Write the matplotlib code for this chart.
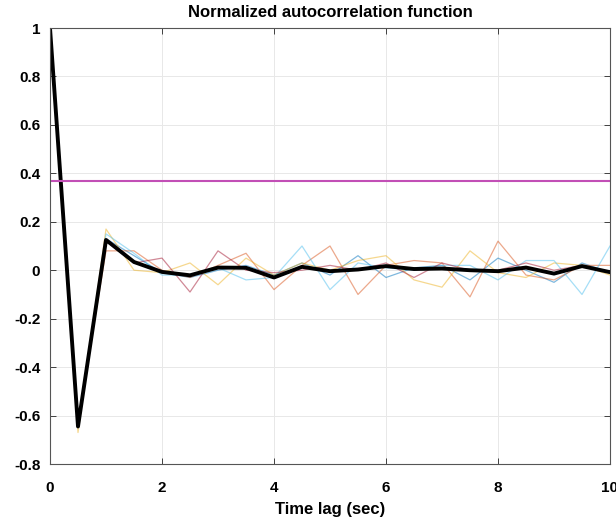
import matplotlib
matplotlib.use("Agg")
import matplotlib.pyplot as plt
import numpy as np

plt.rcParams['font.family'] = ['Liberation Sans', 'DejaVu Sans']

lags = [0, 0.5, 1, 1.5, 2, 2.5, 3, 3.5, 4, 4.5, 5, 5.5, 6, 6.5, 7, 7.5, 8, 8.5, 9, 9.5, 10]

series_blue = [1, -0.64, 0.13, 0.06, -0.01, -0.03, 0.00, 0.02, -0.02, 0.03, -0.02, 0.06, -0.03, 0.01, 0.02, -0.04, 0.05, 0.00, -0.05, 0.03, -0.01]
series_orange = [1, -0.63, 0.08, 0.08, 0.00, -0.03, 0.02, 0.07, -0.08, 0.02, 0.10, -0.10, 0.02, 0.04, 0.03, -0.11, 0.12, -0.02, -0.04, 0.02, 0.02]
series_yellow = [1, -0.67, 0.17, 0.00, -0.01, 0.03, -0.06, 0.05, -0.02, 0.03, 0.00, 0.04, 0.06, -0.04, -0.07, 0.08, -0.01, -0.03, 0.03, 0.02, -0.02]
series_lightblue = [1, -0.65, 0.15, 0.07, -0.02, -0.02, 0.01, -0.04, -0.03, 0.10, -0.08, 0.03, 0.01, 0.00, 0.02, 0.02, -0.04, 0.04, 0.04, -0.10, 0.10]
series_darkred = [1, -0.64, 0.12, 0.03, 0.05, -0.09, 0.08, 0.00, -0.01, 0.00, 0.02, 0.00, 0.03, -0.03, 0.03, 0.00, 0.00, 0.03, 0.00, 0.02, -0.01]
mean_acf = [1, -0.645, 0.125, 0.034, -0.007, -0.021, 0.011, 0.010, -0.030, 0.014, -0.004, 0.003, 0.017, 0.005, 0.007, 0.000, -0.004, 0.011, -0.014, 0.017, -0.008]
threshold = 0.3679

x_ticks = [0, 2, 4, 6, 8, 10]
y_ticks = [-0.8, -0.6, -0.4, -0.2, 0, 0.2, 0.4, 0.6, 0.8, 1]
y_ticklabels = ['-0.8', '-0.6', '-0.4', '-0.2', '0', '0.2', '0.4', '0.6', '0.8', '1']

fig = plt.figure(figsize=(6.16, 5.25), dpi=100)
ax = fig.add_axes([50/616, 61/525, 560/616, 436/525])

thin = [
    (series_blue, (0.0, 0.447, 0.741)),
    (series_orange, (0.85, 0.325, 0.098)),
    (series_yellow, (0.929, 0.694, 0.125)),
    (series_lightblue, (0.301, 0.745, 0.933)),
    (series_darkred, (0.635, 0.078, 0.184)),
]
for s, c in thin:
    ax.plot(lags, s, color=c, lw=0.9, alpha=0.5)

ax.plot(lags, mean_acf, color='black', lw=2.8)
ax.axhline(threshold, color='#c24fb6', lw=1.5)

ax.set_xlim(0, 10)
ax.set_ylim(-0.8, 1)
ax.set_xticks(x_ticks)
ax.set_xticklabels([str(t) for t in x_ticks])
ax.set_yticks(y_ticks)
ax.set_yticklabels(y_ticklabels)
ax.grid(True, color='#e8e8e8', lw=0.7)
ax.set_axisbelow(True)
ax.tick_params(direction='in', top=True, right=True, length=4, width=0.7,
               color='#404040', labelsize=11)
ax.tick_params(axis='x', pad=12)
ax.tick_params(axis='y', pad=7)
for lab in ax.get_xticklabels() + ax.get_yticklabels():
    lab.set_fontweight('bold')
for sp in ax.spines.values():
    sp.set_color('#555555')
    sp.set_linewidth(0.8)

ax.set_xlabel('Time lag (sec)', fontsize=12, fontweight='bold', labelpad=5)
ax.set_title('Normalized autocorrelation function', fontsize=12, fontweight='bold', pad=8)

fig.savefig('out.png', dpi=100)
